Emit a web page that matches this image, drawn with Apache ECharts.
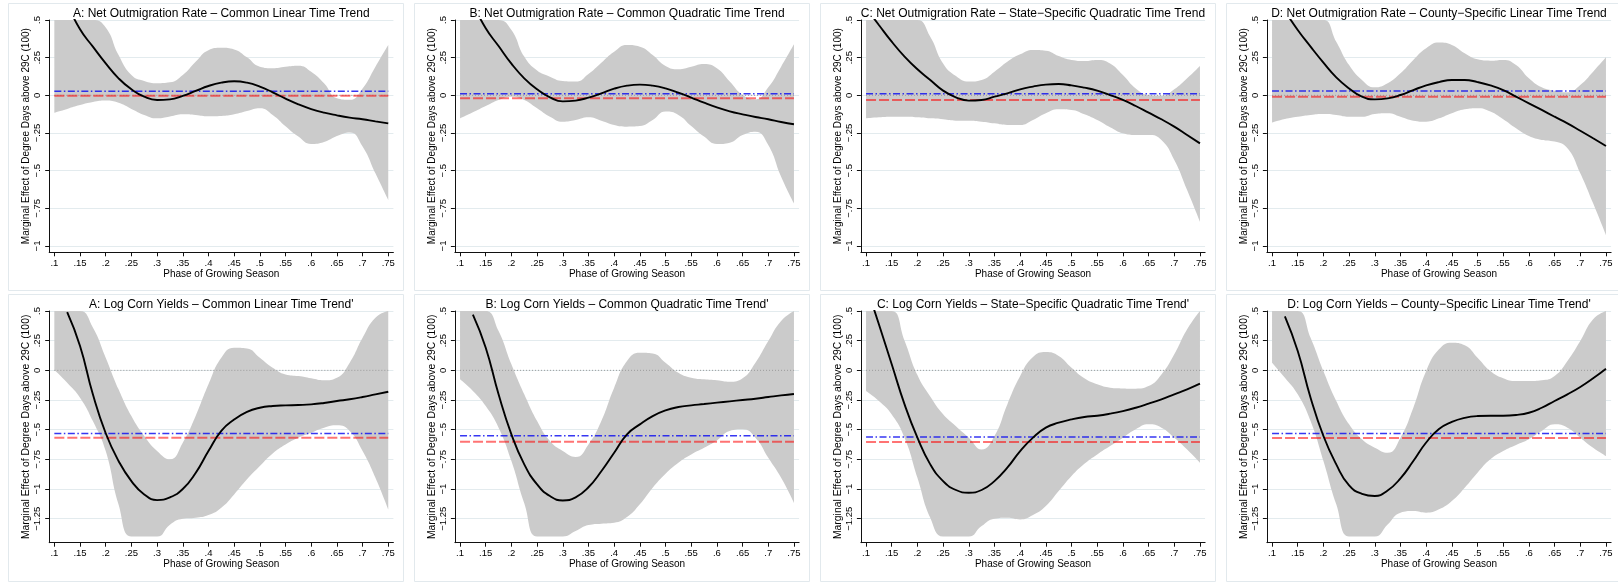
<!DOCTYPE html>
<html>
<head>
<meta charset="utf-8">
<script src="https://cdn.jsdelivr.net/npm/echarts@6/dist/echarts.min.js"></script>
<style>html,body{margin:0;background:#fff}#chart{width:1618px;height:582px}</style>
</head>
<body>
<div id="chart"></div>
<script>
// phase of growing season, sampled every .025
const phase = [0.1, 0.125, 0.15, 0.175, 0.2, 0.225, 0.25, 0.275, 0.3, 0.325, 0.35, 0.375, 0.4, 0.425,
  0.45, 0.475, 0.5, 0.525, 0.55, 0.575, 0.6, 0.625, 0.65, 0.675, 0.7, 0.725, 0.75];
const xTicks = [0.1, 0.15, 0.2, 0.25, 0.3, 0.35, 0.4, 0.45, 0.5, 0.55, 0.6, 0.65, 0.7, 0.75];
const yTicksTop = [0.5, 0.25, 0, -0.25, -0.5, -0.75, -1];
const yTicksBottom = [0.5, 0.25, 0, -0.25, -0.5, -0.75, -1, -1.25];

const titles = [
  'A: Net Outmigration Rate \u2013 Common Linear Time Trend',
  'B: Net Outmigration Rate \u2013 Common Quadratic Time Trend',
  'C: Net Outmigration Rate \u2013 State\u2212Specific Quadratic Time Trend',
  'D: Net Outmigration Rate \u2013 County\u2212Specific Linear Time Trend',
  "A: Log Corn Yields \u2013 Common Linear Time Trend'",
  "B: Log Corn Yields \u2013 Common Quadratic Time Trend'",
  "C: Log Corn Yields \u2013 State\u2212Specific Quadratic Time Trend'",
  "D: Log Corn Yields \u2013 County\u2212Specific Linear Time Trend'"
];

// net outmigration panels (estimate, upper and lower CI, clipped at plot edge)
const migA_est = [null, 0.61, 0.438, 0.323, 0.212, 0.113, 0.04, -0.009, -0.031, -0.027, -0.004, 0.029, 0.062, 0.084, 0.093, 0.084, 0.058, 0.02, -0.022, -0.06, -0.091, -0.115, -0.133, -0.148, -0.159, -0.173, -0.186];
const migA_hi = [0.5, 0.5, 0.5, 0.5, 0.45, 0.268, 0.135, 0.095, 0.08, 0.086, 0.135, 0.223, 0.3, 0.316, 0.305, 0.252, 0.19, 0.18, 0.19, 0.197, 0.157, 0.08, -0.02, -0.03, 0.046, 0.19, 0.334];
const migA_lo = [-0.115, -0.09, -0.065, -0.045, -0.035, -0.05, -0.09, -0.13, -0.153, -0.14, -0.125, -0.13, -0.139, -0.137, -0.126, -0.104, -0.086, -0.13, -0.205, -0.274, -0.323, -0.31, -0.27, -0.246, -0.34, -0.518, -0.695];

const migB_est = [null, 0.61, 0.445, 0.327, 0.21, 0.113, 0.04, -0.013, -0.04, -0.035, -0.015, 0.013, 0.044, 0.064, 0.071, 0.064, 0.046, 0.018, -0.015, -0.049, -0.08, -0.106, -0.126, -0.144, -0.159, -0.177, -0.192];
const migB_hi = [0.5, 0.5, 0.5, 0.5, 0.434, 0.257, 0.164, 0.124, 0.095, 0.091, 0.142, 0.217, 0.29, 0.334, 0.323, 0.268, 0.195, 0.173, 0.19, 0.208, 0.179, 0.091, 0.002, -0.027, 0.053, 0.19, 0.339];
const migB_lo = [-0.153, -0.113, -0.071, -0.031, -0.009, -0.031, -0.086, -0.142, -0.175, -0.164, -0.146, -0.168, -0.197, -0.208, -0.204, -0.164, -0.108, -0.13, -0.204, -0.274, -0.323, -0.314, -0.263, -0.241, -0.33, -0.54, -0.717];

const migC_est = [0.58, 0.467, 0.356, 0.257, 0.173, 0.102, 0.031, -0.013, -0.035, -0.031, -0.009, 0.013, 0.04, 0.058, 0.071, 0.075, 0.066, 0.051, 0.031, 0.002, -0.031, -0.071, -0.115, -0.159, -0.208, -0.263, -0.319];
const migC_hi = [0.5, 0.5, 0.5, 0.5, 0.5, 0.389, 0.212, 0.128, 0.091, 0.102, 0.157, 0.223, 0.272, 0.301, 0.296, 0.261, 0.235, 0.228, 0.235, 0.212, 0.135, 0.046, 0.002, -0.004, 0.04, 0.113, 0.195];
const migC_lo = [-0.153, -0.146, -0.142, -0.142, -0.146, -0.153, -0.159, -0.168, -0.168, -0.175, -0.186, -0.197, -0.197, -0.164, -0.119, -0.093, -0.097, -0.126, -0.164, -0.212, -0.252, -0.263, -0.263, -0.296, -0.429, -0.628, -0.838];

const migD_est = [null, 0.56, 0.434, 0.323, 0.217, 0.119, 0.046, -0.009, -0.027, -0.02, 0.002, 0.035, 0.066, 0.088, 0.102, 0.102, 0.088, 0.066, 0.035, -0.009, -0.053, -0.097, -0.142, -0.186, -0.235, -0.285, -0.336];
const migD_hi = [0.5, 0.5, 0.5, 0.5, 0.5, 0.356, 0.201, 0.102, 0.053, 0.08, 0.146, 0.235, 0.312, 0.35, 0.334, 0.279, 0.239, 0.23, 0.235, 0.201, 0.113, 0.053, 0.031, 0.02, 0.069, 0.157, 0.252];
const migD_lo = [-0.181, -0.157, -0.142, -0.13, -0.124, -0.13, -0.142, -0.142, -0.124, -0.119, -0.142, -0.168, -0.175, -0.153, -0.119, -0.093, -0.086, -0.108, -0.159, -0.219, -0.27, -0.296, -0.307, -0.352, -0.518, -0.717, -0.927];

// log corn yield panels
const cornA_est = [null, 0.49, 0.205, -0.202, -0.53, -0.764, -0.933, -1.045, -1.093, -1.07, -1.0, -0.865, -0.68, -0.51, -0.415, -0.35, -0.315, -0.3, -0.295, -0.292, -0.287, -0.275, -0.258, -0.244, -0.225, -0.202, -0.18];
const cornA_hi = [0.5, 0.5, 0.5, 0.36, 0.107, -0.16, -0.385, -0.553, -0.68, -0.75, -0.61, -0.385, -0.118, 0.107, 0.191, 0.185, 0.107, 0.022, -0.034, -0.048, -0.067, -0.084, -0.062, 0.065, 0.275, 0.444, 0.5];
const cornA_lo = [0.003, -0.104, -0.23, -0.427, -0.68, -1.13, -1.4, -1.4, -1.4, -1.3, -1.25, -1.242, -1.219, -1.157, -1.045, -0.918, -0.806, -0.7, -0.624, -0.567, -0.525, -0.483, -0.463, -0.511, -0.68, -0.904, -1.171];

const cornB_est = [null, 0.47, 0.191, -0.202, -0.539, -0.792, -0.961, -1.059, -1.096, -1.07, -0.985, -0.85, -0.694, -0.539, -0.455, -0.385, -0.337, -0.309, -0.295, -0.284, -0.272, -0.261, -0.25, -0.239, -0.225, -0.211, -0.199];
const cornB_hi = [0.5, 0.5, 0.5, 0.331, 0.051, -0.202, -0.427, -0.596, -0.68, -0.73, -0.624, -0.427, -0.146, 0.079, 0.149, 0.143, 0.065, -0.02, -0.062, -0.076, -0.084, -0.096, -0.067, 0.065, 0.247, 0.416, 0.5];
const cornB_lo = [-0.076, -0.174, -0.301, -0.483, -0.764, -1.12, -1.4, -1.4, -1.4, -1.354, -1.303, -1.292, -1.284, -1.236, -1.129, -0.989, -0.871, -0.778, -0.708, -0.652, -0.59, -0.511, -0.497, -0.567, -0.736, -0.904, -1.115];

const cornC_est = [0.72, 0.388, 0.051, -0.287, -0.567, -0.792, -0.933, -1.008, -1.031, -1.008, -0.933, -0.82, -0.68, -0.567, -0.483, -0.441, -0.413, -0.393, -0.382, -0.365, -0.343, -0.315, -0.281, -0.244, -0.202, -0.16, -0.112];
const cornC_hi = [0.5, 0.5, 0.5, 0.25, -0.04, -0.22, -0.37, -0.47, -0.567, -0.666, -0.553, -0.287, -0.048, 0.112, 0.154, 0.121, 0.022, -0.067, -0.118, -0.146, -0.152, -0.154, -0.132, -0.034, 0.135, 0.346, 0.5];
const cornC_lo = [-0.174, -0.258, -0.371, -0.567, -0.904, -1.242, -1.4, -1.4, -1.4, -1.312, -1.25, -1.242, -1.256, -1.219, -1.143, -1.017, -0.89, -0.787, -0.708, -0.638, -0.567, -0.497, -0.455, -0.483, -0.567, -0.666, -0.778];

const cornD_est = [null, 0.455, 0.163, -0.23, -0.553, -0.792, -0.97, -1.04, -1.058, -1.012, -0.91, -0.764, -0.608, -0.495, -0.435, -0.4, -0.385, -0.382, -0.382, -0.376, -0.357, -0.315, -0.258, -0.202, -0.14, -0.067, 0.014];
const cornD_hi = [0.5, 0.5, 0.5, 0.275, -0.006, -0.258, -0.455, -0.581, -0.652, -0.694, -0.567, -0.315, -0.006, 0.177, 0.233, 0.211, 0.107, -0.006, -0.067, -0.09, -0.09, -0.084, -0.048, 0.079, 0.247, 0.43, 0.5];
const cornD_lo = [0.065, -0.062, -0.202, -0.427, -0.764, -1.129, -1.4, -1.4, -1.4, -1.298, -1.199, -1.185, -1.199, -1.171, -1.101, -0.989, -0.862, -0.75, -0.68, -0.629, -0.581, -0.511, -0.455, -0.483, -0.567, -0.652, -0.722];

// horizontal reference levels per panel
const blueLevel = [0.027, 0.011, 0.011, 0.029, -0.531, -0.551, -0.562, -0.531];
const redLevel = [-0.003, -0.02, -0.031, -0.009, -0.567, -0.601, -0.604, -0.57];

const panels = [
  [migA_est, migA_hi, migA_lo], [migB_est, migB_hi, migB_lo],
  [migC_est, migC_hi, migC_lo], [migD_est, migD_hi, migD_lo],
  [cornA_est, cornA_hi, cornA_lo], [cornB_est, cornB_hi, cornB_lo],
  [cornC_est, cornC_hi, cornC_lo], [cornD_est, cornD_hi, cornD_lo]
];

const FONT = 'Liberation Sans, Arial, sans-serif';
const gridLeft = [49.2, 454.9, 860.9, 1266.9];
const gridW = 344.2;
const frameLeft = [8, 414, 820, 1226];

const fmt = v => {
  if (Math.abs(v) < 1e-9) return '0';
  const s = String(+Math.abs(v).toFixed(3)).replace(/^0\./, '.');
  return (v < 0 ? '\u2212' : '') + s;
};

const chart = echarts.init(document.getElementById('chart'));

const grids = [], xAxes = [], yAxes = [], series = [], titleList = [], frames = [];
panels.forEach(([est, hi, lo], i) => {
  const row = i < 4 ? 0 : 1;
  const col = i % 4;
  grids.push(row === 0
    ? { left: gridLeft[col], top: 20, width: gridW, height: 232.3, outerBoundsMode: 'none' }
    : { left: gridLeft[col], top: 311, width: gridW, height: 231.7, outerBoundsMode: 'none' });
  xAxes.push({
    gridIndex: i, type: 'value', min: 0.09, max: 0.76,
    axisLine: { onZero: false, lineStyle: { color: '#111', width: 1 } },
    axisTick: { show: true, length: 4, customValues: xTicks, lineStyle: { color: '#111' } },
    axisLabel: { customValues: xTicks, formatter: fmt, fontSize: 9.5, margin: 6, color: '#000', fontFamily: FONT },
    splitLine: { show: false },
    name: 'Phase of Growing Season', nameLocation: 'middle', nameGap: 17,
    nameTextStyle: { fontSize: 10, color: '#000', fontFamily: FONT }
  });
  const yt = row === 0 ? yTicksTop : yTicksBottom;
  yAxes.push({
    gridIndex: i, type: 'value', min: row === 0 ? -1.042 : -1.452, max: 0.5,
    axisLine: { show: true, onZero: false, lineStyle: { color: '#111', width: 1 } },
    axisTick: { show: true, length: 4, customValues: yt, lineStyle: { color: '#111' } },
    axisLabel: { customValues: yt, formatter: fmt, rotate: 90, fontSize: 9.5, margin: 7, color: '#000', fontFamily: FONT },
    splitLine: { show: true, lineStyle: { color: '#e3ebee', width: 1 } },
    name: 'Marginal Effect of Degree Days above 29C (100)', nameLocation: 'middle', nameGap: 17,
    nameTextStyle: { fontSize: row === 0 ? 10 : 10.4, color: '#000', fontFamily: FONT }
  });
  titleList.push({
    text: titles[i], left: gridLeft[col] + gridW / 2, top: row === 0 ? 8 : 299, textAlign: 'center', padding: 0,
    textStyle: { fontSize: 12, fontWeight: 'normal', color: '#000', fontFamily: FONT }
  });
  frames.push({
    type: 'rect', silent: true, z: -10,
    shape: { x: frameLeft[col] + 0.5, y: (row === 0 ? 3 : 294) + 0.5, width: 395, height: 287 },
    style: { fill: '#fff', stroke: '#e2e9ed', lineWidth: 1 }
  });

  const base = { type: 'line', xAxisIndex: i, yAxisIndex: i, symbol: 'none', silent: true, smooth: 0.5, animation: false };
  const ends = y => [[phase[0], y], [phase[phase.length - 1], y]];
  // band: value column first so the stack runs on y, not on x
  series.push(
    { ...base, stack: 'ci' + i, stackStrategy: 'all', encode: { x: 1, y: 0 },
      data: phase.map((x, k) => [lo[k], x]), lineStyle: { opacity: 0 } },
    { ...base, stack: 'ci' + i, stackStrategy: 'all', encode: { x: 1, y: 0 },
      data: phase.map((x, k) => [hi[k] - lo[k], x]),
      lineStyle: { opacity: 0 }, areaStyle: { color: '#cbcbcb', opacity: 1 } },
    { ...base, smooth: false, data: ends(0), lineStyle: { color: '#9a9a9a', width: 1, type: [1, 2] } },
    { ...base, smooth: false, data: ends(redLevel[i]), lineStyle: { color: 'rgba(255,0,0,0.55)', width: 2, type: [10, 3] } },
    { ...base, smooth: false, data: ends(blueLevel[i]), lineStyle: { color: 'rgba(20,20,240,0.85)', width: 1.5, type: [7, 2.5, 1.5, 2.5] } },
    { ...base, data: phase.map((x, k) => [x, est[k]]), lineStyle: { color: '#000', width: 1.9 } }
  );
});

chart.setOption({
  backgroundColor: '#fff',
  animation: false,
  title: titleList,
  grid: grids,
  xAxis: xAxes,
  yAxis: yAxes,
  graphic: frames,
  series: series
});
window.addEventListener('resize', () => chart.resize());
</script>
</body>
</html>
